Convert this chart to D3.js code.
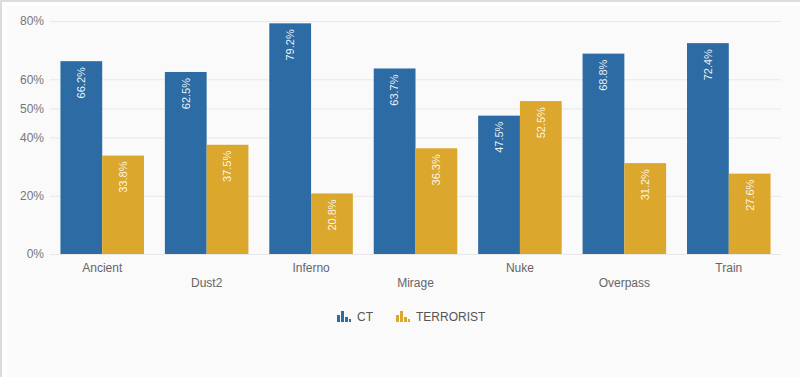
<!DOCTYPE html>
<html>
<head>
<meta charset="utf-8">
<script src="https://cdn.jsdelivr.net/npm/d3@7"></script>
<style>
    body { margin: 0; background: #fafafa; }
    svg { display: block; font-family: "Liberation Sans", Arial, sans-serif; }
</style>
</head>
<body>
<div id="chart"></div>
<script>
// map names and win rates per side
var maps = ["Ancient", "Dust2", "Inferno", "Mirage", "Nuke", "Overpass", "Train"];
var ctValues = [66.2, 62.5, 79.2, 63.7, 47.5, 68.8, 72.4];
var tValues = [33.8, 37.5, 20.8, 36.3, 52.5, 31.2, 27.6];
var seriesNames = ["CT", "TERRORIST"];
var yTicks = [0, 20, 40, 50, 60, 80];

var colors = { "CT": "#2c6ba3", "TERRORIST": "#dba72c" };

var width = 800, height = 377;
var svg = d3.select("#chart").append("svg").attr("width", width).attr("height", height);

// card background and edges
svg.append("rect").attr("width", width).attr("height", height).attr("fill", "#dcdcdc");
svg.append("rect").attr("x", 2).attr("y", 2).attr("width", width).attr("height", height).attr("fill", "#ffffff");
svg.append("rect").attr("x", 7).attr("y", 6).attr("width", width).attr("height", height).attr("fill", "#fafafa");

var plotLeft = 50, plotRight = 781;

var xScale = d3.scaleBand().domain(maps).range([plotLeft, plotRight]).paddingInner(0.2).paddingOuter(0.1);
var xInner = d3.scaleBand().domain(seriesNames).range([0, xScale.bandwidth()]);
var yScale = d3.scaleLinear().domain([0, 80]).range([254, 21]);

// gridlines
svg.append("g")
    .attr("transform", "translate(" + plotLeft + ",0)")
    .call(d3.axisLeft(yScale).tickValues(yTicks).tickSize(-(plotRight - plotLeft)).tickFormat(""))
    .call(g => g.select(".domain").remove())
    .call(g => g.selectAll("line").attr("stroke", "#e8e8e8"));

// y labels
svg.append("g")
    .attr("transform", "translate(" + plotLeft + ",0)")
    .call(d3.axisLeft(yScale).tickValues(yTicks).tickSize(0).tickPadding(6).tickFormat(d => d + "%"))
    .call(g => g.select(".domain").remove())
    .call(g => g.selectAll("text").attr("fill", "#777").style("font-size", "12px").style("font-family", "Liberation Sans, Arial, sans-serif"));

// x labels, staggered in two rows
svg.append("g")
    .attr("transform", "translate(0,254)")
    .call(d3.axisBottom(xScale).tickSize(0).tickPadding(0))
    .call(g => g.select(".domain").remove())
    .call(g => g.selectAll("text")
        .attr("fill", "#666")
        .attr("dy", null)
        .attr("y", (d, i) => i % 2 == 0 ? 18 : 33)
        .style("font-size", "12px")
        .style("font-family", "Liberation Sans, Arial, sans-serif"));

// bars
var rows = maps.map((m, i) => ({ map: m, values: [ctValues[i], tValues[i]] }));

var groups = svg.selectAll("g.group")
    .data(rows)
    .enter()
    .append("g")
    .attr("class", "group")
    .attr("transform", d => "translate(" + xScale(d.map) + ",0)");

var bars = groups.selectAll("g.bar")
    .data(d => d.values.map((v, j) => ({ series: seriesNames[j], value: v })))
    .enter()
    .append("g")
    .attr("class", "bar");

bars.append("rect")
    .attr("x", d => xInner(d.series))
    .attr("y", d => yScale(d.value))
    .attr("width", xInner.bandwidth())
    .attr("height", d => yScale(0) - yScale(d.value))
    .attr("fill", d => colors[d.series]);

bars.append("text")
    .attr("transform", d => "translate(" + (xInner(d.series) + xInner.bandwidth() / 2) + "," + (yScale(d.value) + 6) + ") rotate(-90)")
    .attr("text-anchor", "end")
    .attr("dy", "0.35em")
    .attr("fill", "#ffffff")
    .attr("fill-opacity", 0.92)
    .style("font-size", "11px")
    .text(d => d.value.toFixed(1) + "%");

// legend with small bar-chart icons
var legendItems = [
    { name: "CT", x: 337 },
    { name: "TERRORIST", x: 396 }
];

var legend = svg.selectAll("g.legend")
    .data(legendItems)
    .enter()
    .append("g")
    .attr("class", "legend")
    .attr("transform", d => "translate(" + d.x + ",310)");

var iconBars = [[0, 5, 3, 7], [4, 1, 3, 11], [8, 7, 3, 5]];
iconBars.forEach(b => {
    legend.append("rect")
        .attr("x", b[0]).attr("y", b[1]).attr("width", b[2]).attr("height", b[3])
        .attr("fill", d => colors[d.name]);
});
legend.append("rect")
    .attr("x", 12).attr("y", 9).attr("width", 2).attr("height", 3)
    .attr("fill", d => colors[d.name]);

legend.append("text")
    .attr("x", 20)
    .attr("y", 11)
    .attr("fill", "#555")
    .style("font-size", "12px")
    .text(d => d.name);
</script>
</body>
</html>
